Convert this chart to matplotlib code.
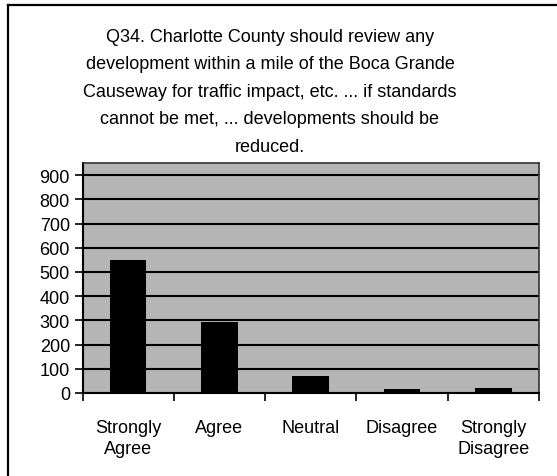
import matplotlib
matplotlib.use("Agg")
import matplotlib.pyplot as plt
from matplotlib.lines import Line2D

plt.rcParams['font.family'] = ['Liberation Sans', 'DejaVu Sans']

# Survey responses
categories = ["Strongly\nAgree", "Agree", "Neutral", "Disagree", "Strongly\nDisagree"]
counts = [550, 293, 70, 18, 21]
y_ticks = [0, 100, 200, 300, 400, 500, 600, 700, 800, 900]
title = ("Q34. Charlotte County should review any\n"
         "development within a mile of the Boca Grande\n"
         "Causeway for traffic impact, etc. ... if standards\n"
         "cannot be met, ... developments should be\n"
         "reduced.")

fig = plt.figure(figsize=(5.57, 4.77), dpi=100)
fig.patch.set_facecolor("white")

# frame lines along the top and left of the chart
fig.add_artist(Line2D([8/557, 1.0], [1 - 6/477, 1 - 6/477], color="black", lw=1.6))
fig.add_artist(Line2D([8/557, 8/557], [0.0, 1 - 6/477], color="black", lw=1.6))

ax = fig.add_axes([82.5/557, 1 - 394/477, (539 - 82.5)/557, (394 - 164)/477])
ax.set_facecolor("#b5b5b5")

x = list(range(len(categories)))
ax.bar(x, counts, width=0.4, color="black", zorder=3)

ax.set_xlim(-0.5, len(categories) - 0.5)
ax.set_ylim(0, 950)
ax.set_yticks(y_ticks)
ax.set_yticklabels([str(v) for v in y_ticks], fontsize=13)
ax.yaxis.grid(True, color="black", lw=1.5, zorder=1)
ax.set_axisbelow(True)
ax.tick_params(axis="y", direction="out", length=6, width=1.2, pad=3)

ax.set_xticks(x)
ax.set_xticklabels(categories, fontsize=13, linespacing=1.3)
ax.tick_params(axis="x", which="major", length=0, pad=19)
ax.set_xticks([i - 0.5 for i in range(len(categories) + 1)], minor=True)
ax.tick_params(axis="x", which="minor", direction="out", length=6, width=1.2)

for side in ["top", "right"]:
    ax.spines[side].set_color("#333333")
    ax.spines[side].set_linewidth(1.2)
for side in ["left", "bottom"]:
    ax.spines[side].set_color("black")
    ax.spines[side].set_linewidth(1.5)

fig.text(270/557, 1 - 29/477, title, ha="center", va="top", fontsize=13,
         linespacing=1.8)

fig.savefig("out.png", dpi=100)
